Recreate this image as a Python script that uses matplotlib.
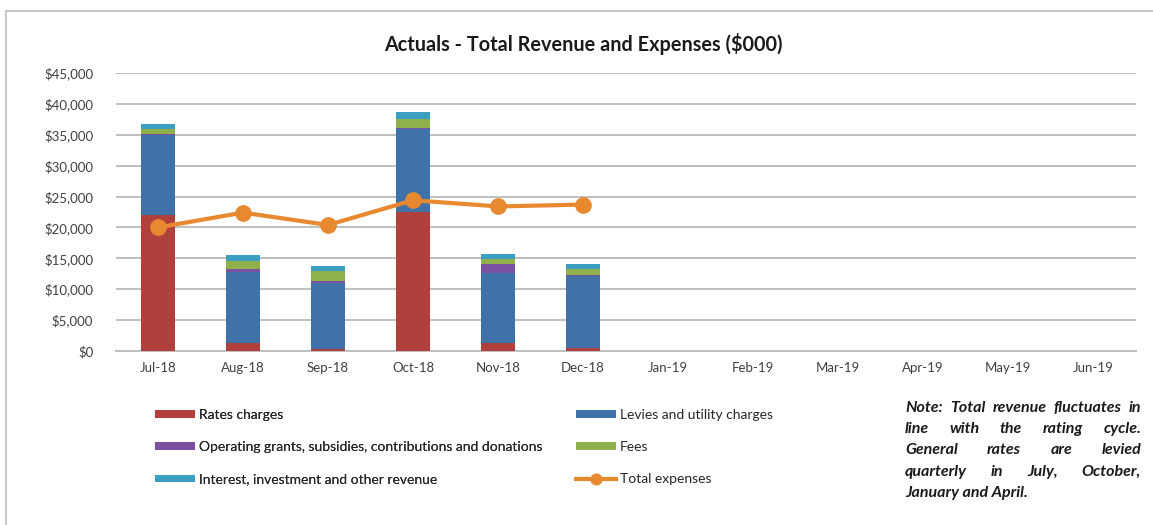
import numpy as np
import matplotlib.pyplot as plt
from matplotlib.patches import Rectangle
from matplotlib.ticker import FuncFormatter

months = ['Jul-18', 'Aug-18', 'Sep-18', 'Oct-18', 'Nov-18', 'Dec-18',
          'Jan-19', 'Feb-19', 'Mar-19', 'Apr-19', 'May-19', 'Jun-19']

# values in $000, only Jul-Dec have actuals
rates = [22000, 1300, 300, 22500, 1300, 500]
levies = [13000, 11500, 10700, 13400, 11300, 11640]
grants = [200, 470, 300, 200, 1480, 160]
fees = [800, 1290, 1650, 1450, 820, 970]
interest = [770, 970, 800, 1120, 800, 810]
expenses = [20000, 22400, 20400, 24400, 23400, 23700]

series_names = ['Rates charges', 'Levies and utility charges',
                'Operating grants, subsidies, contributions and donations',
                'Fees', 'Interest, investment and other revenue']
series_colors = ['#b0403c', '#3f72a9', '#7a50a0', '#8fb04a', '#3a9fc0']
line_color = '#e8892f'

note_lines = ['Note: Total revenue fluctuates in',
              'line with the rating cycle.',
              'General rates are levied',
              'quarterly in July, October,',
              'January and April.']


def main():
  plt.rcParams['font.family'] = ['Lato', 'DejaVu Sans']
  fig = plt.figure(figsize=(11.53, 5.25), dpi=100)
  ax = fig.add_axes([115.5/1153, 1-351/525, 1020/1153, 278/525])

  x = np.arange(len(months))
  n = len(rates)
  bottom = np.zeros(n)
  bars = []
  for vals, name, col in zip([rates, levies, grants, fees, interest], series_names, series_colors):
    b = ax.bar(x[:n], vals, 0.4, bottom=bottom, color=col, label=name, zorder=3)
    bars.append(b)
    bottom += np.array(vals)
  ln, = ax.plot(x[:n], expenses, color=line_color, linewidth=3, marker='o', markersize=11,
                label='Total expenses', zorder=4)

  ax.set_xlim(-0.5, len(months)-0.5)
  ax.set_ylim(0, 45000)
  ax.set_yticks(np.arange(0, 45001, 5000))
  ax.yaxis.set_major_formatter(FuncFormatter(lambda v, p: '${:,.0f}'.format(v)))
  ax.set_xticks(x)
  ax.set_xticklabels(months)
  ax.tick_params(axis='both', length=0, labelsize=9.5, colors='#404040', pad=8)
  ax.tick_params(axis='y', pad=16)
  ax.grid(True, axis='y', color='#bfbfbf', linewidth=1.4, zorder=0)
  for s in ['top', 'right', 'left']:
    ax.spines[s].set_visible(False)
  ax.spines['bottom'].set_color('#bfbfbf')
  ax.spines['bottom'].set_linewidth(1.4)

  fig.text(583/1153, 1-44/525, 'Actuals - Total Revenue and Expenses ($000)', ha='center',
           va='center', fontsize=14.3, fontweight='bold', color='#1a1a1a')

  # legend in two columns
  kw = dict(frameon=False, fontsize=10, handlelength=2.9, handleheight=0.45,
            labelspacing=1.45, handletextpad=0.25, borderaxespad=0, borderpad=0,
            labelcolor='#262626', markerscale=0.7)
  leg1 = fig.legend([bars[0], bars[2], bars[4]], [series_names[0], series_names[2], series_names[4]],
                    loc='upper left', bbox_to_anchor=(155/1153, 1-409/525), **kw)
  fig.legend([bars[1], bars[3], ln], [series_names[1], series_names[3], 'Total expenses'],
             loc='upper left', bbox_to_anchor=(576/1153, 1-409/525), **kw)
  fig.add_artist(leg1)

  # justified note text
  x0, x1 = 905, 1141
  fig.canvas.draw()
  r = fig.canvas.get_renderer()
  for i, line in enumerate(note_lines):
    y = 1-(408 + i*21.2)/525
    words = line.split()
    if i == len(note_lines)-1:
      fig.text(x0/1153, y, line, fontsize=11.5, fontweight='bold', style='italic',
               va='center', color='#1a1a1a')
      continue
    ts = [fig.text(0, y, w, fontsize=11.5, fontweight='bold', style='italic', va='center',
                   color='#1a1a1a') for w in words]
    widths = [t.get_window_extent(r).width for t in ts]
    gap = (x1-x0-sum(widths))/(len(words)-1)
    pos = x0
    for t, w in zip(ts, widths):
      t.set_x(pos/1153)
      pos += w + gap

  fig.patches.append(Rectangle((6/1153, -0.1), 1.2, 1-11/525+0.1, transform=fig.transFigure,
                               fill=False, edgecolor='#c8c8c8', linewidth=1.5))
  plt.savefig('out.png', dpi=100)


if __name__ == '__main__':
  main()
